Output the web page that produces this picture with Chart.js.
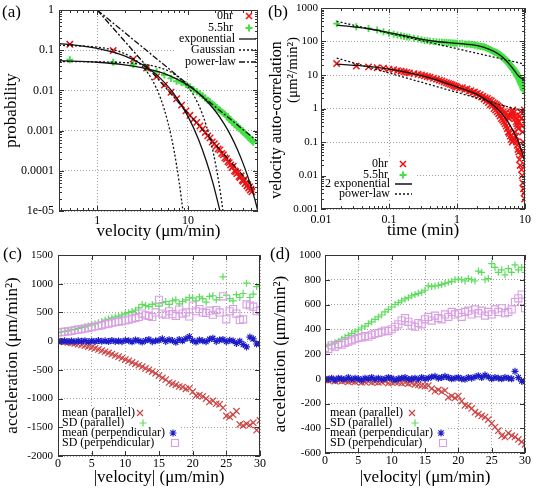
<!DOCTYPE html>
<html>
<head>
<meta charset="utf-8">
<title>velocity / acceleration statistics</title>
<script src="https://cdn.jsdelivr.net/npm/chart.js"></script>
<style>
  body { margin: 0; background: #fff; }
  #wrap { position: relative; width: 537px; height: 488px; }
  canvas { position: absolute; }
  .lab { position: absolute; font: 17px "Liberation Serif", serif; color: #000; }
</style>
</head>
<body>
<div id="wrap">
  <canvas id="chartA" width="268" height="240" style="left:0;top:0"></canvas>
  <canvas id="chartB" width="269" height="240" style="left:268px;top:0"></canvas>
  <canvas id="chartC" width="268" height="248" style="left:0;top:240px"></canvas>
  <canvas id="chartD" width="269" height="248" style="left:268px;top:240px"></canvas>
  <div class="lab" style="left:2px;top:2px">(a)</div>
  <div class="lab" style="left:268px;top:2px">(b)</div>
  <div class="lab" style="left:3px;top:244px">(c)</div>
  <div class="lab" style="left:270px;top:244px">(d)</div>
</div>
<script>
// ---- (a) velocity distribution ----
const aVel = [0.5,1.5,2.5,3.5,4.5,5.5,6.5,7.5,8.5,9.5,10.5,11.5,12.5,13.5,14.5,15.5,16.5,17.5,18.5,19.5,
  20.5,21.5,22.5,23.5,24.5,25.5,26.5,27.5,28.5,29.5,30.5,31.5,32.5,33.5,34.5,35.5,36.5,37.5,38.5,39.5,
  40.5,41.5,42.5,43.5,44.5,45.5,46.5,47.5,48.5,49.5,50.5,51.5,52.5];
const aProb0hr = [0.14,0.098,0.060,0.036,0.022,0.0135,0.0090,0.0062,0.0043,0.0031,
  0.0024,0.0019,0.0016,0.0013,0.0011,0.00090,0.00074,0.00066,0.00052,0.00047,
  0.00041,0.00035,0.00033,0.00027,0.00025,0.00021,0.00020,0.00017,0.00016,0.00014,
  0.00012,0.00013,0.00010,0.000095,0.000085,0.000090,0.000072,0.000068,0.000075,0.000058,
  0.000055,0.000060,0.000048,0.000050,0.000042,0.000045,0.000037,0.000040,0.000033,0.000035,0.000030];
const aProb55hr = [0.058,0.050,0.044,0.036,0.029,0.024,0.020,0.017,0.0155,0.0138,
  0.0122,0.0105,0.0093,0.0082,0.0074,0.0065,0.0057,0.0052,0.0046,0.0043,
  0.0038,0.0034,0.0032,0.0029,0.0027,0.0026,0.0023,0.0022,0.0019,0.0018,
  0.0017,0.0016,0.0014,0.0014,0.0013,0.00125,0.00115,0.00112,0.00100,0.00100,
  0.00092,0.00090,0.00082,0.00080,0.00075,0.00073,0.00068,0.00066,0.00061,0.00060,
  0.00056,0.00055,0.00051];
const aExp0hrV = [0.38,0.6,1,1.5,2,3,4,5,7,10,13,16,19,22.5];
const aExp0hrP = [0.145,0.132,0.111,0.089,0.072,0.0467,0.0303,0.0196,0.00825,0.00226,0.00062,0.000168,0.000046,0.00001];
const aExp55V = [0.38,1,2,3,5,7,10,15,20,25,30,35,40,45,50,55,59];
const aExp55P = [0.055,0.0502,0.0434,0.0374,0.0279,0.0208,0.0134,0.0064,0.00307,0.00147,0.00071,0.00034,0.000162,0.000078,0.000037,0.000018,0.0000095];
const aGau0hrV = [0.38,1,1.5,2,2.5,3,4,5,6,7,8,8.8];
const aGau0hrP = [0.133,0.119,0.102,0.0826,0.0626,0.0447,0.0189,0.00626,0.00163,0.00033,0.000052,0.00001];
const aGau55V = [0.38,1,2,3,4,5,7,10,13,16,19,22,24.3];
const aGau55P = [0.052,0.0513,0.0491,0.0457,0.0412,0.0362,0.0256,0.0122,0.0045,0.00127,0.00028,0.000047,0.00001];
const aPow0hrV = [1,55], aPow0hrP = [1,0.000034];
const aPow55V = [1,57], aPow55P = [1,0.00056];
const aXTicks = [1,10], aXLabels = ['1','10'];
const aYTicks = [0.00001,0.0001,0.001,0.01,0.1,1];
const aYLabels = ['1e-05','0.0001','0.001','0.01','0.1','1'];

// ---- (b) velocity auto-correlation ----
const bTime = [0.017,0.033,0.05,0.067,0.083,0.1,0.117,0.133,0.15,0.167,
  0.183,0.2,0.233,0.267,0.3,0.333,0.367,0.4,0.45,0.5,
  0.55,0.6,0.65,0.7,0.75,0.8,0.85,0.9,0.95,1.0,
  1.1,1.2,1.3,1.4,1.5,1.6,1.7,1.8,1.9,2.0,
  2.1,2.2,2.3,2.4,2.5,2.6,2.7,2.8,2.9,3.0,
  3.1,3.2,3.3,3.4,3.5,3.6,3.7,3.8,3.9,4.0,
  4.1,4.2,4.3,4.4,4.5,4.6,4.7,4.8,4.9,5.0,
  5.1,5.2,5.3,5.4,5.5,5.6,5.7,5.8,5.9,6.0,
  6.1,6.2,6.3,6.4,6.5,6.6,6.7,6.8,6.9,7.0,
  7.1,7.2,7.3,7.4,7.5,7.6,7.7,7.8,7.9,8.0,
  8.1,8.2,8.3,8.4,8.5,8.6,8.7,8.8,8.9,9.0,
  9.1,9.2,9.3,9.4,9.5,9.6,9.7,9.8,9.9,10.0];
const bAcf0hr = [22,18.5,17.5,16.5,16,15,14.5,13.5,13,12.5,
  12,11.5,11,10.5,10,9.5,9,8.6,8,7.5,
  7,6.6,6.2,5.9,5.6,5.3,5.1,4.8,4.6,4.4,
  4.1,4.2,3.7,3.8,3.3,3.4,3.0,3.1,2.7,2.8,
  2.4,2.6,2.2,2.3,1.9,2.1,1.7,2.0,1.5,1.8,
  1.3,1.7,1.2,1.5,1.0,1.4,0.9,1.3,0.8,1.2,
  0.7,1.1,0.6,0.9,0.5,1.0,0.45,0.8,0.4,0.7,
  0.35,0.75,0.3,0.6,0.25,0.55,0.2,0.5,0.18,0.6,
  0.15,0.7,0.12,0.8,0.1,0.9,0.11,0.75,0.13,0.6,
  0.2,0.5,0.15,0.4,0.1,0.35,0.08,0.3,0.06,0.25,
  0.05,0.4,0.03,0.6,0.02,0.8,0.04,0.5,0.015,0.3,
  0.01,0.2,0.006,0.1,0.004,0.05,0.003,0.9,0.002,0.02];
const bAcf55hr = [340,275,245,220,195,175,165,155,148,142,
  137,133,126,118,112,108,105,102,100,98,
  96,95,94,93,92,91,90,90,89,88,
  87,88,84,83,84,80,81,77,78,74,
  75,71,72,68,70,65,66,61,62,57,
  58,54,53,51,50,48,49,45,46,42,
  43,39,40,37,38,34,35,32,33,29,
  30,27,28,25,26,23,24,21,22,19,
  20,17.5,18.5,16,17,15,16,14,14.5,12.5,
  13.5,11.5,12.5,10.5,11.5,9.5,10.5,9,9.6,8,
  8.8,7.2,8.2,6.4,7.6,5.8,7.2,5.2,6.6,4.8,
  6,4.2,5.4,3.8,5,3.6,4.6,3.4,4.2,3.6];
const bFit0hrT = [0.017,0.05,0.1,0.2,0.5,1,2,3,4,5,6,7,8,9,10];
const bFit0hr = [21,18,15,11.5,7.2,4.4,2.6,1.55,0.95,0.56,0.32,0.18,0.1,0.05,0.025];
const bFit55T = [0.017,0.05,0.1,0.2,0.3,0.5,1,2,3,4,5,6,7,8,9,10];
const bFit55 = [310,240,185,140,118,100,88,75,58,43,30,20,13.5,9.5,7.8,6.5];
const bPow0hrT = [0.017,10], bPow0hr = [32,0.8];
const bPow55T = [0.017,10], bPow55 = [400,21];
const bXTicks = [0.01,0.1,1,10], bXLabels = ['0.01','0.1','1','10'];
const bYTicks = [0.001,0.01,0.1,1,10,100,1000];
const bYLabels = ['0.001','0.01','0.1','1','10','100','1000'];

// ---- (c), (d) acceleration vs |velocity| ----
const accVel = [0,0.5,1,1.5,2,2.5,3,3.5,4,4.5,5,5.5,6,6.5,7,7.5,8,8.5,9,9.5,
  10,10.5,11,11.5,12,12.5,13,13.5,14,14.5,15,15.5,16,16.5,17,17.5,18,18.5,19,19.5,
  20,20.5,21,21.5,22,22.5,23,23.5,24,24.5,25,25.5,26,26.5,27,27.5,28,28.5,29,29.5,30];
const cMeanPar = [0,-8,-15,-22,-30,-40,-52,-65,-80,-95,
  -110,-125,-145,-165,-185,-205,-225,-250,-270,-295,
  -320,-345,-370,-395,-420,-445,-475,-500,-530,-560,
  -600,-640,-670,-720,-740,-760,-790,-800,-830,-820,
  -880,-950,-940,-960,-1000,-1060,-1040,-1090,-1100,-1160,
  -1300,-1320,-1280,-1220,-1450,-1470,-1440,-1460,-1420,-1550,-1380];
const cSdPar = [150,160,170,180,195,205,220,235,250,265,
  285,300,320,340,365,385,405,420,435,455,
  475,495,515,540,580,640,620,600,640,660,
  610,670,690,640,700,720,650,690,720,760,
  750,700,770,740,680,780,790,720,760,1120,
  800,740,700,810,760,830,1010,760,820,950,980];
const cMeanPerp = [0,-5,5,-8,3,-10,6,-4,8,-12,
  4,-6,10,-3,5,-8,12,-5,3,-10,
  15,8,-12,20,5,-15,10,30,-10,6,
  15,40,-5,25,10,-20,30,5,45,80,
  10,-15,20,5,-10,35,50,-5,20,30,
  -10,15,5,-40,0,-60,-100,70,40,-50,-40];
const cSdPerp = [150,155,165,170,180,190,200,210,220,232,
  245,255,265,280,295,305,320,330,340,350,
  360,375,390,405,420,480,450,440,420,500,
  720,480,460,520,470,440,550,480,500,430,
  620,520,560,500,490,530,460,540,500,780,
  380,520,560,480,370,380,640,620,600,520,540];
const dMeanPar = [-10,-15,-10,-20,-15,-20,-15,-25,-20,-25,
  -20,-30,-25,-20,-30,-25,-30,-25,-20,-35,
  -30,-25,-30,-35,-30,-40,-35,-45,-50,-55,
  -60,-55,-80,-100,-90,-105,-95,-150,-140,-155,
  -140,-180,-215,-220,-240,-270,-285,-300,-310,-330,
  -360,-390,-420,-460,-470,-440,-460,-470,-490,-510,-530];
const dSdPar = [260,270,280,290,300,320,335,350,365,380,
  395,410,425,445,460,480,500,515,540,560,
  580,600,615,630,645,655,670,680,690,700,
  715,750,745,750,755,760,770,780,785,800,
  805,800,790,810,800,790,870,860,800,810,
  930,900,860,880,840,890,860,920,880,900,860];
const dMeanPerp = [0,-5,5,-10,5,0,-5,10,-5,5,
  0,-10,5,0,10,-5,5,-5,0,10,
  5,-10,0,5,10,-5,0,5,-5,10,
  0,5,15,20,5,10,20,10,0,5,
  10,0,-5,10,5,15,25,10,30,15,
  0,10,5,0,10,5,0,60,10,-20,-25];
const dSdPerp = [250,240,270,260,280,275,290,300,310,320,
  330,335,345,340,355,365,370,380,390,385,
  400,420,440,470,490,460,430,420,450,440,
  480,500,470,510,490,480,520,500,540,520,
  530,500,540,550,520,560,530,550,510,540,
  520,560,540,570,530,540,560,620,650,680,570];
const accXTicks = [0,5,10,15,20,25,30];
const accXLabels = ['0','5','10','15','20','25','30'];
const cYTicks = [-2000,-1500,-1000,-500,0,500,1000,1500];
const cYLabels = ['-2000','-1500','-1000','-500','0','500','1000','1500'];
const dYTicks = [-600,-400,-200,0,200,400,600,800,1000];
const dYLabels = ['-600','-400','-200','0','200','400','600','800','1000'];

const RED = '#f01414', GREEN = '#44e044';
const RED2 = '#cc4545', GREEN2 = '#5ddc5d', BLUE2 = '#1c1cc8', PURPLE2 = '#d99ee4';
const FIT = '#111';
const SERIF = '"Liberation Serif", "DejaVu Serif", serif';

Chart.defaults.font.family = SERIF;
Chart.defaults.font.size = 12;
Chart.defaults.color = '#000';

const pts = (xs, ys) => ys.map((y, i) => ({ x: xs[i], y }));

function marks(xs, ys, style, color, r, lw) {
  return { data: pts(xs, ys), showLine: false, pointStyle: style, pointRadius: r,
    pointBorderWidth: lw, pointBorderColor: color, borderColor: color,
    pointBackgroundColor: style === 'rect' ? 'rgba(0,0,0,0)' : color };
}
function curve(xs, ys, dash) {
  return { data: pts(xs, ys), showLine: true, pointRadius: 0, borderColor: FIT,
    borderWidth: 1.3, borderDash: dash || [], cubicInterpolationMode: 'monotone', fill: false };
}

function axis(o) {
  return {
    type: o.type, min: o.min, max: o.max,
    afterBuildTicks: s => { s.ticks = o.ticks.map(v => ({ value: v })); },
    afterFit: s => {
      if (o.width !== undefined) { s.width = o.width; s.paddingTop = 0; s.paddingBottom = 0; }
      if (o.height !== undefined) { s.height = o.height; s.paddingLeft = 0; s.paddingRight = 0; }
    },
    ticks: { callback: (v, i) => o.labels[i], padding: o.pad, autoSkip: false, maxRotation: 0,
      color: '#000', font: { size: o.fsize || 12 } },
    grid: { color: '#a0a0a0', drawTicks: false, lineWidth: 1 },
    border: { display: false, dash: [1, 2] },
    title: { display: !!o.title, text: o.title || '', color: '#000',
      font: { size: o.tsize || 17, lineHeight: 1 }, padding: o.tpad }
  };
}

// frame with inward ticks, gnuplot style
const framePlugin = {
  id: 'frame',
  afterDraw(chart) {
    const { ctx, chartArea: a } = chart;
    ctx.save();
    ctx.strokeStyle = '#333';
    ctx.lineWidth = 1;
    ctx.setLineDash([]);
    ctx.beginPath();
    for (const s of [chart.scales.x, chart.scales.y]) {
      const vals = s.ticks.map(t => ({ v: t.value, len: 5 }));
      if (s.type === 'logarithmic') {
        for (let d = Math.floor(Math.log10(s.min)); d < Math.ceil(Math.log10(s.max)); d++) {
          for (let k = 2; k < 10; k++) {
            const v = k * Math.pow(10, d);
            if (v > s.min && v < s.max) vals.push({ v, len: 3 });
          }
        }
      }
      for (const { v, len } of vals) {
        const p = Math.round(s.getPixelForValue(v)) + 0.5;
        if (s.isHorizontal()) {
          ctx.moveTo(p, a.bottom); ctx.lineTo(p, a.bottom - len);
          ctx.moveTo(p, a.top); ctx.lineTo(p, a.top + len);
        } else {
          ctx.moveTo(a.left, p); ctx.lineTo(a.left + len, p);
          ctx.moveTo(a.right, p); ctx.lineTo(a.right - len, p);
        }
      }
    }
    ctx.stroke();
    ctx.strokeRect(Math.round(a.left) + 0.5, Math.round(a.top) + 0.5,
      Math.round(a.right - a.left) - 1, Math.round(a.bottom - a.top) - 1);
    ctx.restore();
  }
};

function drawMark(ctx, m, y) {
  ctx.save();
  ctx.strokeStyle = m.color;
  ctx.lineWidth = m.lw || 1.3;
  ctx.setLineDash(m.dash || []);
  ctx.beginPath();
  const x = m.x, r = m.r || 3.5;
  if (m.type === 'line') { ctx.moveTo(x, y); ctx.lineTo(m.x2, y); }
  if (m.type === 'x' || m.type === '*') {
    const q = m.type === '*' ? r * 0.75 : r;
    ctx.moveTo(x - q, y - q); ctx.lineTo(x + q, y + q);
    ctx.moveTo(x - q, y + q); ctx.lineTo(x + q, y - q);
  }
  if (m.type === '+' || m.type === '*') {
    ctx.moveTo(x - r, y); ctx.lineTo(x + r, y);
    ctx.moveTo(x, y - r); ctx.lineTo(x, y + r);
  }
  if (m.type === 'sq') ctx.rect(x - r, y - r, 2 * r, 2 * r);
  ctx.stroke();
  ctx.restore();
}

// opaque key box, right- or left-justified text with sample
function keyPlugin(box, items) {
  return {
    id: 'key',
    beforeDatasetsDraw(chart) {
      const ctx = chart.ctx;
      ctx.save();
      ctx.fillStyle = '#fff';
      ctx.fillRect(box[0], box[1], box[2], box[3]);
      ctx.restore();
    },
    afterDraw(chart) {
      const ctx = chart.ctx;
      ctx.save();
      ctx.font = '12px ' + SERIF;
      ctx.fillStyle = '#000';
      ctx.textBaseline = 'middle';
      for (const it of items) {
        ctx.textAlign = it.align || 'right';
        ctx.fillText(it.text, it.tx, it.ty);
        drawMark(ctx, it.mark, it.ty);
      }
      ctx.restore();
    }
  };
}

// rotated y title, one placement per line (gnuplot places them unevenly)
function yTitlePlugin(lines) {
  return {
    id: 'ytitle',
    afterDraw(chart) {
      const ctx = chart.ctx;
      ctx.save();
      ctx.fillStyle = '#000';
      ctx.textAlign = 'center';
      ctx.textBaseline = 'middle';
      for (const l of lines) {
        ctx.save();
        ctx.font = l.size + 'px ' + SERIF;
        ctx.translate(l.x, l.y);
        ctx.rotate(-Math.PI / 2);
        ctx.fillText(l.text, 0, 0);
        ctx.restore();
      }
      ctx.restore();
    }
  };
}

function baseOptions(pad, x, y) {
  return {
    responsive: false, animation: false, events: [],
    layout: { padding: pad },
    plugins: { legend: { display: false }, tooltip: { enabled: false } },
    scales: { x, y }
  };
}

// (a)
new Chart(document.getElementById('chartA'), {
  type: 'scatter',
  data: { datasets: [
    curve(aExp0hrV, aExp0hrP), curve(aExp55V, aExp55P),
    curve(aGau0hrV, aGau0hrP, [2, 2]), curve(aGau55V, aGau55P, [2, 2]),
    curve(aPow0hrV, aPow0hrP, [6, 2, 2, 2]), curve(aPow55V, aPow55P, [6, 2, 2, 2]),
    marks(aVel, aProb0hr, 'crossRot', RED, 4.5, 1.5),
    marks(aVel, aProb55hr, 'cross', GREEN, 3.5, 2)
  ] },
  options: baseOptions({ left: 0, top: 10, right: 10, bottom: 0 },
    axis({ type: 'logarithmic', min: 0.38, max: 59, ticks: aXTicks, labels: aXLabels, height: 29, pad: 3,
      title: 'velocity (μm/min)', tpad: { top: 0, bottom: 0 } }),
    axis({ type: 'logarithmic', min: 0.00001, max: 1, ticks: aYTicks, labels: aYLabels, width: 59, pad: 5,
      title: 'probability', tpad: { top: 3, bottom: 0 } })),
  plugins: [framePlugin, keyPlugin([176, 12, 81, 56], [
    { text: '0hr', tx: 233, ty: 16, mark: { type: 'x', x: 249, color: RED, r: 3, lw: 1.6 } },
    { text: '5.5hr', tx: 233, ty: 28, mark: { type: '+', x: 249, color: GREEN, r: 3.5, lw: 2 } },
    { text: 'exponential', tx: 235, ty: 39, mark: { type: 'line', x: 239, x2: 256, color: FIT } },
    { text: 'Gaussian', tx: 235, ty: 50, mark: { type: 'line', x: 239, x2: 256, color: FIT, dash: [2, 2] } },
    { text: 'power-law', tx: 236, ty: 62, mark: { type: 'line', x: 239, x2: 256, color: FIT, dash: [6, 2, 2, 2] } }
  ])]
});

// (b)
new Chart(document.getElementById('chartB'), {
  type: 'scatter',
  data: { datasets: [
    curve(bFit0hrT, bFit0hr), curve(bFit55T, bFit55),
    curve(bPow0hrT, bPow0hr, [2, 2]), curve(bPow55T, bPow55, [2, 2]),
    marks(bTime, bAcf55hr, 'cross', GREEN, 3.5, 1.8),
    marks(bTime, bAcf0hr, 'crossRot', RED, 4.5, 1.5)
  ] },
  options: baseOptions({ left: 0, top: 8, right: 12, bottom: 0 },
    axis({ type: 'logarithmic', min: 0.01, max: 10, ticks: bXTicks, labels: bXLabels, height: 31, pad: 4,
      title: 'time (min)', tpad: { top: 0, bottom: 1 } }),
    axis({ type: 'logarithmic', min: 0.001, max: 1000, ticks: bYTicks, labels: bYLabels, width: 53, pad: 3, fsize: 11 })),
  plugins: [framePlugin, yTitlePlugin([
    { text: 'velocity auto-correlation', x: 9, y: 120, size: 16 },
    { text: '(μm²/min²)', x: 25, y: 70, size: 15 }
  ]), keyPlugin([56, 157, 92, 43], [
    { text: '0hr', tx: 120, ty: 164, mark: { type: 'x', x: 135, color: RED, r: 3, lw: 1.6 } },
    { text: '5.5hr', tx: 120, ty: 175, mark: { type: '+', x: 135, color: GREEN, r: 3.5, lw: 2 } },
    { text: '2 exponential', tx: 122, ty: 184, mark: { type: 'line', x: 127, x2: 144, color: FIT, lw: 1.5 } },
    { text: 'power-law', tx: 122, ty: 194, mark: { type: 'line', x: 127, x2: 144, color: FIT, dash: [2, 2] } }
  ])]
});

// (c) and (d)
function accChart(id, meanPar, sdPar, meanPerp, sdPerp, yMin, yMax, yTicks, yLabels, pad, xh, yw, ypad, box, keyX) {
  new Chart(document.getElementById(id), {
    type: 'scatter',
    data: { datasets: [
      marks(accVel, sdPerp, 'rect', PURPLE2, 5, 1.1),
      marks(accVel, meanPerp, 'star', BLUE2, 3.5, 1.2),
      marks(accVel, sdPar, 'cross', GREEN2, 3.5, 1.2),
      marks(accVel, meanPar, 'crossRot', RED2, 4.5, 1.2)
    ] },
    options: baseOptions(pad,
      axis({ type: 'linear', min: 0, max: 30, ticks: accXTicks, labels: accXLabels, height: xh, pad: 1,
        title: '|velocity| (μm/min)', tpad: { top: 0, bottom: 1.5 } }),
      axis({ type: 'linear', min: yMin, max: yMax, ticks: yTicks, labels: yLabels, width: yw, pad: ypad, fsize: 11,
        title: 'acceleration (μm/min²)', tpad: { top: 4.5, bottom: 0 } })),
    plugins: [framePlugin, keyPlugin(box, [
      { text: 'mean (parallel)', tx: 62, ty: 173, align: 'left', mark: { type: 'x', x: keyX[0], color: RED2, r: 3, lw: 1.2 } },
      { text: 'SD (parallel)', tx: 62, ty: 183, align: 'left', mark: { type: '+', x: keyX[1], color: GREEN2, r: 3.5, lw: 1.2 } },
      { text: 'mean (perpendicular)', tx: 62, ty: 193, align: 'left', mark: { type: '*', x: keyX[2], color: BLUE2, r: 3.5, lw: 1.2 } },
      { text: 'SD (perpendicular)', tx: 62, ty: 203, align: 'left', mark: { type: 'sq', x: keyX[3], color: PURPLE2, r: 3.5, lw: 1.1 } }
    ])]
  });
}

accChart('chartC', cMeanPar, cSdPar, cMeanPerp, cSdPerp, -2000, 1500, cYTicks, cYLabels,
  { left: 0, top: 15, right: 8, bottom: 0 }, 32, 58, 5, [59, 166, 122, 45], [140, 143, 173, 175]);
accChart('chartD', dMeanPar, dSdPar, dMeanPerp, dSdPerp, -600, 1000, dYTicks, dYLabels,
  { left: 0, top: 15, right: 12, bottom: 0 }, 35, 57, 4, [58, 166, 122, 45], [144, 147, 173, 175]);
</script>
</body>
</html>
